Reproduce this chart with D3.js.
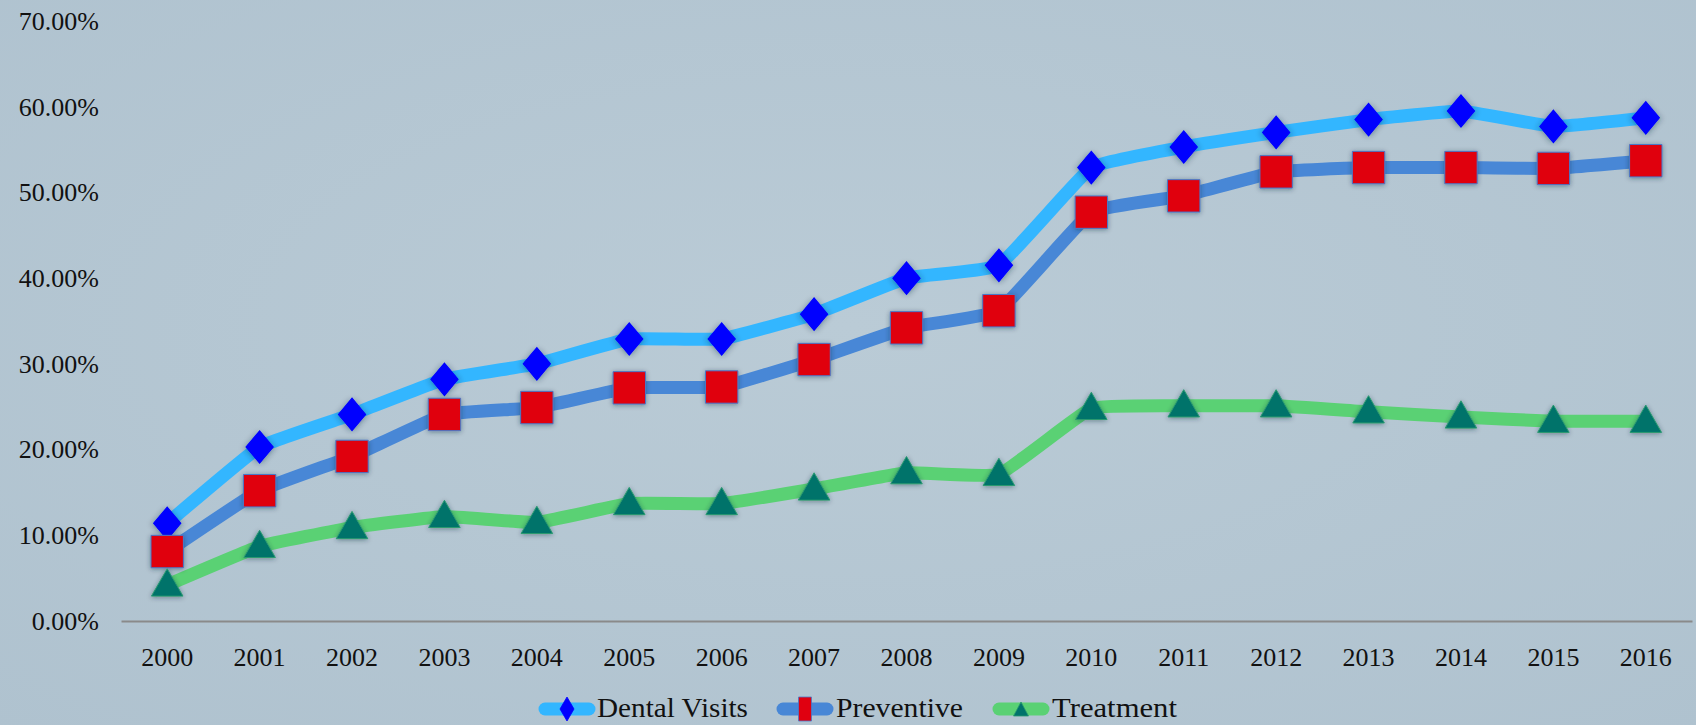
<!DOCTYPE html>
<html>
<head>
<meta charset="utf-8">
<script src="https://cdn.jsdelivr.net/npm/d3@7"></script>
<style>
  html, body { margin: 0; padding: 0; }
  body { width: 1696px; height: 725px; overflow: hidden; background: #b5c7d3; }
  svg { display: block; }
</style>
</head>
<body>
<svg id="chart"></svg>
<script>
// data
const years = ['2000','2001','2002','2003','2004','2005','2006','2007','2008',
               '2009','2010','2011','2012','2013','2014','2015','2016'];
const dentalVisits = [11.4, 20.3, 24.1, 28.2, 30.0, 32.9, 32.9, 35.8, 40.0,
                      41.5, 52.9, 55.3, 57.0, 58.5, 59.5, 57.7, 58.7];
const preventive = [8.1, 15.2, 19.2, 24.1, 24.9, 27.2, 27.3, 30.5, 34.2,
                    36.2, 47.7, 49.6, 52.4, 52.9, 52.9, 52.8, 53.7];
const treatment = [4.2, 8.7, 10.9, 12.2, 11.5, 13.7, 13.7, 15.4, 17.3,
                   17.1, 24.8, 25.1, 25.1, 24.4, 23.8, 23.3, 23.3];
const yTicks = [0, 10, 20, 30, 40, 50, 60, 70];

const width = 1696, height = 725;
const svg = d3.select('#chart').attr('width', width).attr('height', height);

// background
const defs = svg.append('defs');
const bg = defs.append('radialGradient').attr('id', 'bg')
  .attr('cx', '50%').attr('cy', '45%').attr('r', '75%');
bg.append('stop').attr('offset', '0%').attr('stop-color', '#bacbd6');
bg.append('stop').attr('offset', '100%').attr('stop-color', '#afc2cf');
svg.append('rect').attr('width', width).attr('height', height).attr('fill', 'url(#bg)');

const shadow = defs.append('filter').attr('id', 'shadow')
  .attr('x', '-50%').attr('y', '-50%').attr('width', '200%').attr('height', '200%');
shadow.append('feDropShadow').attr('dx', 0).attr('dy', 1).attr('stdDeviation', 2.5)
  .attr('flood-color', '#1a2a3a').attr('flood-opacity', 0.45);

const x = d3.scaleBand().domain(years).range([121, 1692]);
const y = d3.scaleLinear().domain([0, 70]).range([621, 21]);

// y axis labels
const yAxis = svg.append('g').attr('transform', 'translate(99,0)')
  .call(d3.axisLeft(y).tickValues(yTicks).tickSize(0).tickPadding(0)
    .tickFormat(d => d.toFixed(2) + '%'));
yAxis.select('.domain').remove();
yAxis.selectAll('text')
  .attr('font-family', '"Liberation Serif", serif')
  .attr('font-size', 26).attr('fill', '#111');

// x axis
const xAxis = svg.append('g').attr('transform', 'translate(0,621)')
  .call(d3.axisBottom(x).tickSize(0).tickPadding(27));
xAxis.select('.domain').attr('stroke', '#8a8a8a').attr('stroke-width', 2);
xAxis.selectAll('text')
  .attr('font-family', '"Liberation Serif", serif')
  .attr('font-size', 26).attr('fill', '#111');

const series = [
  { name: 'Dental Visits', values: dentalVisits, line: '#33b6ff', fill: '#0000ff', stroke: '#0000ff', shape: d3.symbolDiamond, size: 300 },
  { name: 'Preventive', values: preventive, line: '#4887d6', fill: '#e00010', stroke: '#4a78c8', shape: d3.symbolSquare, size: 1050 },
  { name: 'Treatment', values: treatment, line: '#5ad174', fill: '#00736b', stroke: '#2a9a70', shape: d3.symbolTriangle, size: 430 }
];

const cx = d => x(d) + x.bandwidth() / 2;
const line = d3.line()
  .x(d => cx(d[0]))
  .y(d => y(d[1]))
  .curve(d3.curveCardinal.tension(0.7));

series.slice().reverse().forEach(s => {
  svg.append('path')
    .datum(years.map((yr, i) => [yr, s.values[i]]))
    .attr('d', line)
    .attr('fill', 'none')
    .attr('stroke', s.line)
    .attr('stroke-width', 13)
    .attr('stroke-linejoin', 'round')
    .attr('stroke-linecap', 'round');
});

series.forEach(s => {
  const sym = d3.symbol().type(s.shape).size(s.size);
  svg.append('g').selectAll('path')
    .data(years.map((yr, i) => [yr, s.values[i]]))
    .join('path')
    .attr('transform', d => {
      const sc = s.shape === d3.symbolDiamond ? ' scale(1.45,1)' : '';
      const dy = s.shape === d3.symbolTriangle ? 2 : 0;
      return `translate(${cx(d[0])},${y(d[1]) + dy})` + sc;
    })
    .attr('d', sym)
    .attr('fill', s.fill)
    .attr('stroke', s.stroke)
    .attr('stroke-width', 1)
    .attr('filter', 'url(#shadow)');
});

// legend
const legendItems = [
  { x0: 539, x1: 595, tx: 597, tw: 151, mark: [14, 24] },
  { x0: 777, x1: 833, tx: 836, tw: 127, mark: [13, 24] },
  { x0: 993, x1: 1049, tx: 1052, tw: 125, mark: [15, 14] }
];
const legend = svg.append('g').attr('transform', 'translate(0,709)');
series.forEach((s, i) => {
  const li = legendItems[i];
  const g = legend.append('g');
  g.append('line')
    .attr('x1', li.x0 + 6).attr('x2', li.x1 - 6)
    .attr('stroke', s.line).attr('stroke-width', 13).attr('stroke-linecap', 'round');
  const mx = (li.x0 + li.x1) / 2, [mw, mh] = li.mark;
  let d;
  if (s.shape === d3.symbolDiamond) {
    d = `M${mx},${-mh / 2}L${mx + mw / 2},0L${mx},${mh / 2}L${mx - mw / 2},0Z`;
  } else if (s.shape === d3.symbolSquare) {
    d = `M${mx - mw / 2},${-mh / 2}h${mw}v${mh}h${-mw}Z`;
  } else {
    d = `M${mx},${-mh / 2}L${mx + mw / 2},${mh / 2}L${mx - mw / 2},${mh / 2}Z`;
  }
  g.append('path').attr('d', d)
    .attr('fill', s.fill).attr('stroke', s.stroke).attr('stroke-width', 0.8);
  g.append('text')
    .attr('x', li.tx).attr('y', 8)
    .attr('font-family', '"Liberation Serif", serif')
    .attr('font-size', 28).attr('fill', '#111')
    .attr('textLength', li.tw).attr('lengthAdjust', 'spacingAndGlyphs')
    .text(s.name);
});
</script>
</body>
</html>
